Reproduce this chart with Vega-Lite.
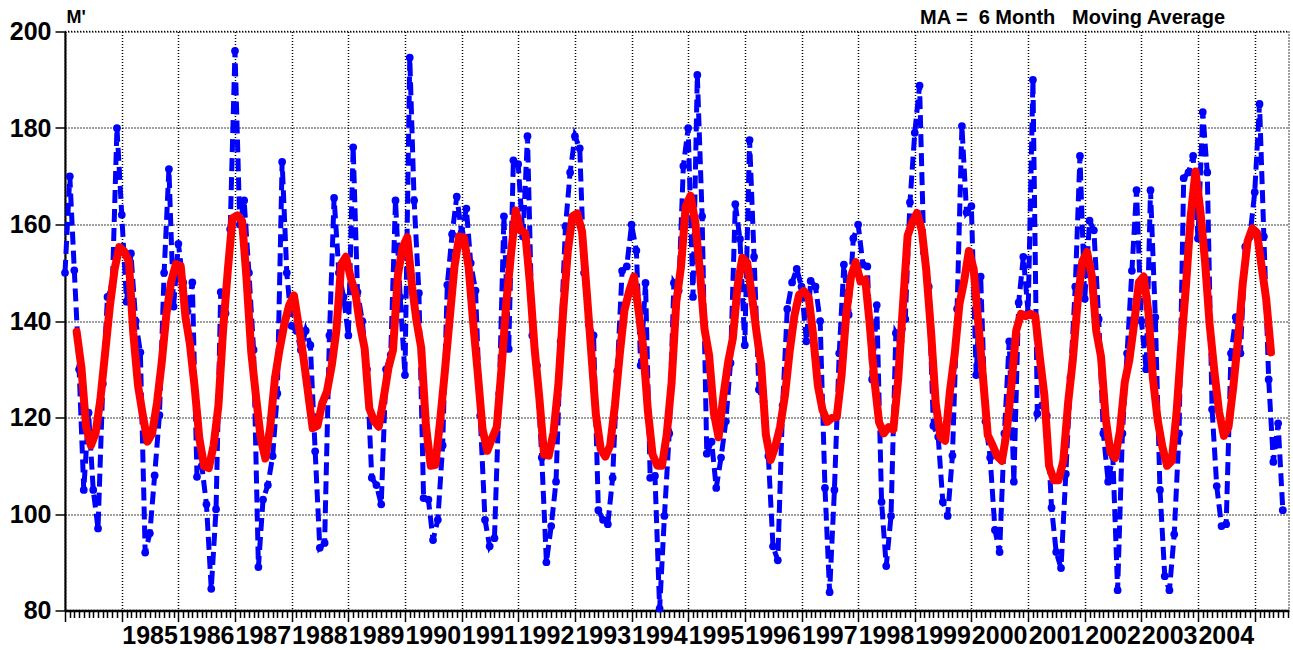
{
  "$schema": "https://vega.github.io/schema/vega-lite/v6.json",
  "width": 1224,
  "height": 579,
  "autosize": {"type": "none"},
  "padding": {"left": 65, "top": 31.5, "right": 4, "bottom": 39.5},
  "background": "white",
  "config": {
    "font": "Liberation Sans",
    "view": {"stroke": "black", "strokeDash": [1, 2], "strokeWidth": 1.5}
  },
  "title": {
    "text": "MA =\u00a0 6 Month\u00a0\u00a0 Moving Average",
    "anchor": "end",
    "frame": "group",
    "fontSize": 20,
    "fontWeight": "bold",
    "color": "black",
    "font": "Liberation Sans",
    "baseline": "bottom",
    "offset": 0,
    "dx": -64,
    "dy": 39
  },
  "datasets": {
    "monthly": [
      {"date":"1984-01-01","value":150},{"date":"1984-02-01","value":170},{"date":"1984-03-01","value":150.5},{"date":"1984-04-01","value":130},{"date":"1984-05-01","value":105},{"date":"1984-06-01","value":121},{"date":"1984-07-01","value":105},{"date":"1984-08-01","value":97},{"date":"1984-09-01","value":127},{"date":"1984-10-01","value":145},{"date":"1984-11-01","value":147},{"date":"1984-12-01","value":180},
      {"date":"1985-01-01","value":162},{"date":"1985-02-01","value":144},{"date":"1985-03-01","value":154},{"date":"1985-04-01","value":140},{"date":"1985-05-01","value":133.5},{"date":"1985-06-01","value":92},{"date":"1985-07-01","value":96},{"date":"1985-08-01","value":108},{"date":"1985-09-01","value":120.5},{"date":"1985-10-01","value":150},{"date":"1985-11-01","value":171.5},{"date":"1985-12-01","value":143},
      {"date":"1986-01-01","value":156},{"date":"1986-02-01","value":148},{"date":"1986-03-01","value":142},{"date":"1986-04-01","value":148},{"date":"1986-05-01","value":107.7},{"date":"1986-06-01","value":110},{"date":"1986-07-01","value":102},{"date":"1986-08-01","value":84.5},{"date":"1986-09-01","value":101},{"date":"1986-10-01","value":146},{"date":"1986-11-01","value":141.6},{"date":"1986-12-01","value":159},
      {"date":"1987-01-01","value":196},{"date":"1987-02-01","value":160},{"date":"1987-03-01","value":165},{"date":"1987-04-01","value":150},{"date":"1987-05-01","value":134},{"date":"1987-06-01","value":89},{"date":"1987-07-01","value":103},{"date":"1987-08-01","value":106},{"date":"1987-09-01","value":112},{"date":"1987-10-01","value":125},{"date":"1987-11-01","value":173},{"date":"1987-12-01","value":150},
      {"date":"1988-01-01","value":139},{"date":"1988-02-01","value":138},{"date":"1988-03-01","value":134},{"date":"1988-04-01","value":138},{"date":"1988-05-01","value":135},{"date":"1988-06-01","value":113},{"date":"1988-07-01","value":93},{"date":"1988-08-01","value":94},{"date":"1988-09-01","value":137},{"date":"1988-10-01","value":165.5},{"date":"1988-11-01","value":150},{"date":"1988-12-01","value":145},
      {"date":"1989-01-01","value":137},{"date":"1989-02-01","value":176},{"date":"1989-03-01","value":146},{"date":"1989-04-01","value":140},{"date":"1989-05-01","value":130},{"date":"1989-06-01","value":107.5},{"date":"1989-07-01","value":106},{"date":"1989-08-01","value":102},{"date":"1989-09-01","value":130},{"date":"1989-10-01","value":133},{"date":"1989-11-01","value":165},{"date":"1989-12-01","value":145},
      {"date":"1990-01-01","value":128.8},{"date":"1990-02-01","value":194.6},{"date":"1990-03-01","value":165},{"date":"1990-04-01","value":145.8},{"date":"1990-05-01","value":103.3},{"date":"1990-06-01","value":103},{"date":"1990-07-01","value":94.6},{"date":"1990-08-01","value":98.8},{"date":"1990-09-01","value":114.2},{"date":"1990-10-01","value":147.5},{"date":"1990-11-01","value":158},{"date":"1990-12-01","value":165.8},
      {"date":"1991-01-01","value":158.3},{"date":"1991-02-01","value":163.3},{"date":"1991-03-01","value":152},{"date":"1991-04-01","value":146.3},{"date":"1991-05-01","value":120.4},{"date":"1991-06-01","value":98.8},{"date":"1991-07-01","value":93.3},{"date":"1991-08-01","value":95},{"date":"1991-09-01","value":125},{"date":"1991-10-01","value":161.7},{"date":"1991-11-01","value":134.2},{"date":"1991-12-01","value":173.3},
      {"date":"1992-01-01","value":172.5},{"date":"1992-02-01","value":157.5},{"date":"1992-03-01","value":178.3},{"date":"1992-04-01","value":137},{"date":"1992-05-01","value":130.8},{"date":"1992-06-01","value":111.7},{"date":"1992-07-01","value":90},{"date":"1992-08-01","value":97.5},{"date":"1992-09-01","value":106.7},{"date":"1992-10-01","value":135.8},{"date":"1992-11-01","value":159.6},{"date":"1992-12-01","value":170.8},
      {"date":"1993-01-01","value":178.3},{"date":"1993-02-01","value":175.8},{"date":"1993-03-01","value":150},{"date":"1993-04-01","value":139.2},{"date":"1993-05-01","value":137},{"date":"1993-06-01","value":100.8},{"date":"1993-07-01","value":98.8},{"date":"1993-08-01","value":97.9},{"date":"1993-09-01","value":107.5},{"date":"1993-10-01","value":129.6},{"date":"1993-11-01","value":150.4},{"date":"1993-12-01","value":151.3},
      {"date":"1994-01-01","value":160},{"date":"1994-02-01","value":154.6},{"date":"1994-03-01","value":130.8},{"date":"1994-04-01","value":147.9},{"date":"1994-05-01","value":107.5},{"date":"1994-06-01","value":107.9},{"date":"1994-07-01","value":80.4},{"date":"1994-08-01","value":99.6},{"date":"1994-09-01","value":116.7},{"date":"1994-10-01","value":147.9},{"date":"1994-11-01","value":146.3},{"date":"1994-12-01","value":172.1},
      {"date":"1995-01-01","value":180},{"date":"1995-02-01","value":145},{"date":"1995-03-01","value":191},{"date":"1995-04-01","value":161.7},{"date":"1995-05-01","value":112.5},{"date":"1995-06-01","value":115},{"date":"1995-07-01","value":105.4},{"date":"1995-08-01","value":111.7},{"date":"1995-09-01","value":119.2},{"date":"1995-10-01","value":131.3},{"date":"1995-11-01","value":164.2},{"date":"1995-12-01","value":157},
      {"date":"1996-01-01","value":135},{"date":"1996-02-01","value":177.5},{"date":"1996-03-01","value":153.3},{"date":"1996-04-01","value":125.8},{"date":"1996-05-01","value":123.3},{"date":"1996-06-01","value":112},{"date":"1996-07-01","value":93.3},{"date":"1996-08-01","value":90.4},{"date":"1996-09-01","value":122.5},{"date":"1996-10-01","value":142.5},{"date":"1996-11-01","value":148},{"date":"1996-12-01","value":150.8},
      {"date":"1997-01-01","value":147.1},{"date":"1997-02-01","value":135.8},{"date":"1997-03-01","value":148.3},{"date":"1997-04-01","value":147.1},{"date":"1997-05-01","value":140},{"date":"1997-06-01","value":105.4},{"date":"1997-07-01","value":83.8},{"date":"1997-08-01","value":105},{"date":"1997-09-01","value":133.3},{"date":"1997-10-01","value":151.7},{"date":"1997-11-01","value":141.3},{"date":"1997-12-01","value":157.1},
      {"date":"1998-01-01","value":160},{"date":"1998-02-01","value":151.7},{"date":"1998-03-01","value":151.3},{"date":"1998-04-01","value":127.9},{"date":"1998-05-01","value":143.3},{"date":"1998-06-01","value":102.5},{"date":"1998-07-01","value":89.2},{"date":"1998-08-01","value":99.6},{"date":"1998-09-01","value":137.5},{"date":"1998-10-01","value":135.8},{"date":"1998-11-01","value":140.4},{"date":"1998-12-01","value":164.6},
      {"date":"1999-01-01","value":179},{"date":"1999-02-01","value":188.8},{"date":"1999-03-01","value":154.2},{"date":"1999-04-01","value":147.1},{"date":"1999-05-01","value":118.3},{"date":"1999-06-01","value":116},{"date":"1999-07-01","value":102.5},{"date":"1999-08-01","value":99.6},{"date":"1999-09-01","value":112.1},{"date":"1999-10-01","value":142.5},{"date":"1999-11-01","value":180.4},{"date":"1999-12-01","value":162.5},
      {"date":"2000-01-01","value":163.8},{"date":"2000-02-01","value":128.8},{"date":"2000-03-01","value":149.2},{"date":"2000-04-01","value":119.2},{"date":"2000-05-01","value":111.7},{"date":"2000-06-01","value":96.7},{"date":"2000-07-01","value":92.1},{"date":"2000-08-01","value":116.7},{"date":"2000-09-01","value":135.8},{"date":"2000-10-01","value":106.7},{"date":"2000-11-01","value":143.8},{"date":"2000-12-01","value":153.3},
      {"date":"2001-01-01","value":141.7},{"date":"2001-02-01","value":190},{"date":"2001-03-01","value":120.8},{"date":"2001-04-01","value":122.5},{"date":"2001-05-01","value":120.4},{"date":"2001-06-01","value":101.3},{"date":"2001-07-01","value":92.1},{"date":"2001-08-01","value":88.8},{"date":"2001-09-01","value":108.3},{"date":"2001-10-01","value":128.3},{"date":"2001-11-01","value":147.1},{"date":"2001-12-01","value":174.2},
      {"date":"2002-01-01","value":144.6},{"date":"2002-02-01","value":160.8},{"date":"2002-03-01","value":158.8},{"date":"2002-04-01","value":140.4},{"date":"2002-05-01","value":116.7},{"date":"2002-06-01","value":106.7},{"date":"2002-07-01","value":112},{"date":"2002-08-01","value":84.2},{"date":"2002-09-01","value":116.7},{"date":"2002-10-01","value":133.3},{"date":"2002-11-01","value":150.4},{"date":"2002-12-01","value":167.1},
      {"date":"2003-01-01","value":140},{"date":"2003-02-01","value":130},{"date":"2003-03-01","value":167.1},{"date":"2003-04-01","value":140.8},{"date":"2003-05-01","value":105},{"date":"2003-06-01","value":87.1},{"date":"2003-07-01","value":84.2},{"date":"2003-08-01","value":95.8},{"date":"2003-09-01","value":116.7},{"date":"2003-10-01","value":169.6},{"date":"2003-11-01","value":170.8},{"date":"2003-12-01","value":174.2},
      {"date":"2004-01-01","value":157.1},{"date":"2004-02-01","value":183.3},{"date":"2004-03-01","value":170.8},{"date":"2004-04-01","value":121.7},{"date":"2004-05-01","value":105.8},{"date":"2004-06-01","value":97.5},{"date":"2004-07-01","value":97.9},{"date":"2004-08-01","value":133.3},{"date":"2004-09-01","value":140.8},{"date":"2004-10-01","value":133.3},{"date":"2004-11-01","value":155.4},{"date":"2004-12-01","value":157.5},
      {"date":"2005-01-01","value":166.7},{"date":"2005-02-01","value":185},{"date":"2005-03-01","value":157.5},{"date":"2005-04-01","value":127.9},{"date":"2005-05-01","value":110.8},{"date":"2005-06-01","value":118.8},{"date":"2005-07-01","value":100.8}
    ],
    "movingAverage": [
      {"date":"1984-03-16","value":137.8},{"date":"1984-04-16","value":130.3},{"date":"1984-05-16","value":118.1},{"date":"1984-06-16","value":114.2},{"date":"1984-07-16","value":116.7},{"date":"1984-08-16","value":123.7},{"date":"1984-09-16","value":133.5},{"date":"1984-10-16","value":143},{"date":"1984-11-16","value":150.8},{"date":"1984-12-16","value":155.3},
      {"date":"1985-01-16","value":154.5},{"date":"1985-02-16","value":152.3},{"date":"1985-03-16","value":137.6},{"date":"1985-04-16","value":126.6},{"date":"1985-05-16","value":120.6},{"date":"1985-06-16","value":115},{"date":"1985-07-16","value":116.7},{"date":"1985-08-16","value":123},{"date":"1985-09-16","value":131.5},{"date":"1985-10-16","value":141.5},{"date":"1985-11-16","value":148.2},{"date":"1985-12-16","value":151.8},
      {"date":"1986-01-16","value":151.4},{"date":"1986-02-16","value":140.8},{"date":"1986-03-16","value":135.3},{"date":"1986-04-16","value":126.3},{"date":"1986-05-16","value":115.7},{"date":"1986-06-16","value":109.9},{"date":"1986-07-16","value":109.5},{"date":"1986-08-16","value":114.2},{"date":"1986-09-16","value":122.4},{"date":"1986-10-16","value":138},{"date":"1986-11-16","value":150.6},{"date":"1986-12-16","value":161.3},
      {"date":"1987-01-16","value":161.9},{"date":"1987-02-16","value":160.7},{"date":"1987-03-16","value":149},{"date":"1987-04-16","value":133.5},{"date":"1987-05-16","value":124.5},{"date":"1987-06-16","value":115.7},{"date":"1987-07-16","value":111.5},{"date":"1987-08-16","value":118},{"date":"1987-09-16","value":128.2},{"date":"1987-10-16","value":134.2},{"date":"1987-11-16","value":139.5},{"date":"1987-12-16","value":143.2},
      {"date":"1988-01-16","value":145.3},{"date":"1988-02-16","value":139},{"date":"1988-03-16","value":132.8},{"date":"1988-04-16","value":125.2},{"date":"1988-05-16","value":117.8},{"date":"1988-06-16","value":118.3},{"date":"1988-07-16","value":122.9},{"date":"1988-08-16","value":125.4},{"date":"1988-09-16","value":130.8},{"date":"1988-10-16","value":138.1},{"date":"1988-11-16","value":151.8},{"date":"1988-12-16","value":153.3},
      {"date":"1989-01-16","value":149},{"date":"1989-02-16","value":145.7},{"date":"1989-03-16","value":139.4},{"date":"1989-04-16","value":134.3},{"date":"1989-05-16","value":121.9},{"date":"1989-06-16","value":119.3},{"date":"1989-07-16","value":118.1},{"date":"1989-08-16","value":123.9},{"date":"1989-09-16","value":130.2},{"date":"1989-10-16","value":134},{"date":"1989-11-16","value":149.4},{"date":"1989-12-16","value":155.2},
      {"date":"1990-01-16","value":157.4},{"date":"1990-02-16","value":147.1},{"date":"1990-03-16","value":140.1},{"date":"1990-04-16","value":134.4},{"date":"1990-05-16","value":118.4},{"date":"1990-06-16","value":110},{"date":"1990-07-16","value":110.2},{"date":"1990-08-16","value":119.4},{"date":"1990-09-16","value":129.8},{"date":"1990-10-16","value":140.4},{"date":"1990-11-16","value":151.2},{"date":"1990-12-16","value":157.5},
      {"date":"1991-01-16","value":157.3},{"date":"1991-02-16","value":151},{"date":"1991-03-16","value":139.9},{"date":"1991-04-16","value":129},{"date":"1991-05-16","value":117.6},{"date":"1991-06-16","value":113.1},{"date":"1991-07-16","value":115.7},{"date":"1991-08-16","value":118},{"date":"1991-09-16","value":130.4},{"date":"1991-10-16","value":143.6},{"date":"1991-11-16","value":154},{"date":"1991-12-16","value":162.9},
      {"date":"1992-01-16","value":158.8},{"date":"1992-02-16","value":158.2},{"date":"1992-03-16","value":148},{"date":"1992-04-16","value":134.2},{"date":"1992-05-16","value":124.2},{"date":"1992-06-16","value":112.3},{"date":"1992-07-16","value":112.1},{"date":"1992-08-16","value":116.9},{"date":"1992-09-16","value":126.7},{"date":"1992-10-16","value":141.5},{"date":"1992-11-16","value":154.5},{"date":"1992-12-16","value":161.7},
      {"date":"1993-01-16","value":162.3},{"date":"1993-02-16","value":158.5},{"date":"1993-03-16","value":146.9},{"date":"1993-04-16","value":133.6},{"date":"1993-05-16","value":120.6},{"date":"1993-06-16","value":113.5},{"date":"1993-07-16","value":111.9},{"date":"1993-08-16","value":114.2},{"date":"1993-09-16","value":122.6},{"date":"1993-10-16","value":132.8},{"date":"1993-11-16","value":142.2},{"date":"1993-12-16","value":146.1},
      {"date":"1994-01-16","value":149.2},{"date":"1994-02-16","value":142},{"date":"1994-03-16","value":134.8},{"date":"1994-04-16","value":121.5},{"date":"1994-05-16","value":112.4},{"date":"1994-06-16","value":110},{"date":"1994-07-16","value":110},{"date":"1994-08-16","value":116.5},{"date":"1994-09-16","value":127.2},{"date":"1994-10-16","value":143.8},{"date":"1994-11-16","value":151.3},{"date":"1994-12-16","value":163.7},
      {"date":"1995-01-16","value":166},{"date":"1995-02-16","value":160.4},{"date":"1995-03-16","value":150.9},{"date":"1995-04-16","value":138.4},{"date":"1995-05-16","value":132.9},{"date":"1995-06-16","value":120.9},{"date":"1995-07-16","value":115.9},{"date":"1995-08-16","value":124.5},{"date":"1995-09-16","value":131.5},{"date":"1995-10-16","value":136.4},{"date":"1995-11-16","value":147.4},{"date":"1995-12-16","value":153.1},
      {"date":"1996-01-16","value":152.1},{"date":"1996-02-16","value":145.3},{"date":"1996-03-16","value":137.8},{"date":"1996-04-16","value":130.9},{"date":"1996-05-16","value":116.4},{"date":"1996-06-16","value":111.2},{"date":"1996-07-16","value":114},{"date":"1996-08-16","value":118.1},{"date":"1996-09-16","value":124.6},{"date":"1996-10-16","value":133.6},{"date":"1996-11-16","value":141.1},{"date":"1996-12-16","value":145.4},
      {"date":"1997-01-16","value":146.2},{"date":"1997-02-16","value":144.9},{"date":"1997-03-16","value":137.3},{"date":"1997-04-16","value":126.7},{"date":"1997-05-16","value":121.6},{"date":"1997-06-16","value":119.1},{"date":"1997-07-16","value":119.9},{"date":"1997-08-16","value":120.1},{"date":"1997-09-16","value":128.7},{"date":"1997-10-16","value":141.4},{"date":"1997-11-16","value":149.2},{"date":"1997-12-16","value":152.2},
      {"date":"1998-01-16","value":148.2},{"date":"1998-02-16","value":148.6},{"date":"1998-03-16","value":139.5},{"date":"1998-04-16","value":127.7},{"date":"1998-05-16","value":119},{"date":"1998-06-16","value":116.7},{"date":"1998-07-16","value":118},{"date":"1998-08-16","value":117.5},{"date":"1998-09-16","value":127.9},{"date":"1998-10-16","value":142.8},{"date":"1998-11-16","value":157.7},{"date":"1998-12-16","value":160.5},
      {"date":"1999-01-16","value":162.4},{"date":"1999-02-16","value":158.7},{"date":"1999-03-16","value":150.6},{"date":"1999-04-16","value":137.8},{"date":"1999-05-16","value":123},{"date":"1999-06-16","value":115.9},{"date":"1999-07-16","value":115.2},{"date":"1999-08-16","value":125.5},{"date":"1999-09-16","value":133.3},{"date":"1999-10-16","value":143.5},{"date":"1999-11-16","value":148.4},{"date":"1999-12-16","value":154.5},
      {"date":"2000-01-16","value":150.7},{"date":"2000-02-16","value":139.2},{"date":"2000-03-16","value":128.2},{"date":"2000-04-16","value":116.3},{"date":"2000-05-16","value":114.3},{"date":"2000-06-16","value":112},{"date":"2000-07-16","value":111},{"date":"2000-08-16","value":117},{"date":"2000-09-16","value":127},{"date":"2000-10-16","value":138},{"date":"2000-11-16","value":141.5},{"date":"2000-12-16","value":141},
      {"date":"2001-01-16","value":141.5},{"date":"2001-02-16","value":141},{"date":"2001-03-16","value":132.8},{"date":"2001-04-16","value":124.5},{"date":"2001-05-16","value":110},{"date":"2001-06-16","value":107},{"date":"2001-07-16","value":107},{"date":"2001-08-16","value":111},{"date":"2001-09-16","value":123.1},{"date":"2001-10-16","value":131.9},{"date":"2001-11-16","value":143.9},{"date":"2001-12-16","value":152.3},
      {"date":"2002-01-16","value":154.3},{"date":"2002-02-16","value":149.3},{"date":"2002-03-16","value":138},{"date":"2002-04-16","value":132.6},{"date":"2002-05-16","value":119.8},{"date":"2002-06-16","value":112.8},{"date":"2002-07-16","value":111.6},{"date":"2002-08-16","value":117.2},{"date":"2002-09-16","value":127.3},{"date":"2002-10-16","value":132},{"date":"2002-11-16","value":139.6},{"date":"2002-12-16","value":148},
      {"date":"2003-01-16","value":149.2},{"date":"2003-02-16","value":141.7},{"date":"2003-03-16","value":128.3},{"date":"2003-04-16","value":119.5},{"date":"2003-05-16","value":114},{"date":"2003-06-16","value":110},{"date":"2003-07-16","value":111},{"date":"2003-08-16","value":121},{"date":"2003-09-16","value":135.2},{"date":"2003-10-16","value":147.4},{"date":"2003-11-16","value":162},{"date":"2003-12-16","value":171},
      {"date":"2004-01-16","value":163},{"date":"2004-02-16","value":152.2},{"date":"2004-03-16","value":139.4},{"date":"2004-04-16","value":129.5},{"date":"2004-05-16","value":121.2},{"date":"2004-06-16","value":116.2},{"date":"2004-07-16","value":118.1},{"date":"2004-08-16","value":126.4},{"date":"2004-09-16","value":136.4},{"date":"2004-10-16","value":147.8},{"date":"2004-11-16","value":156.5},{"date":"2004-12-16","value":159.2},
      {"date":"2005-01-16","value":158.3},{"date":"2005-02-16","value":150.9},{"date":"2005-03-16","value":144.5},{"date":"2005-04-16","value":133.5}
    ]
  },
  "encoding": {
    "x": {
      "field": "date",
      "type": "temporal",
      "scale": {
        "type": "utc",
        "nice": false,
        "domain": [
          {"year": 1984, "month": 1, "date": 1, "utc": true},
          {"year": 2005, "month": 8, "date": 10, "utc": true}
        ]
      },
      "axis": {
        "title": null,
        "tickCount": {"interval": "month", "step": 1},
        "grid": true,
        "gridColor": "black",
        "gridDash": [1, 2],
        "gridWidth": 1.5,
        "gridOpacity": {"condition": {"test": "utcmonth(datum.value) === 0", "value": 1}, "value": 0},
        "domainColor": "black",
        "domainWidth": 2.5,
        "tickColor": "black",
        "tickWidth": 1.5,
        "tickSize": {"condition": {"test": "utcmonth(datum.value) === 0", "value": 11}, "value": 7},
        "labelExpr": "utcmonth(datum.value) === 0 && utcyear(datum.value) >= 1985 && utcyear(datum.value) <= 2004 ? utcFormat(datum.value, '%Y') : ''",
        "labelAlign": "left",
        "labelBaseline": "top",
        "labelOffset": 0,
        "labelPadding": 2,
        "labelFlush": false,
        "labelOverlap": false,
        "labelBound": false,
        "labelFont": "Liberation Sans",
        "labelFontSize": 25,
        "labelFontWeight": "bold",
        "labelColor": "black"
      }
    },
    "y": {
      "field": "value",
      "type": "quantitative",
      "scale": {"domain": [80, 200], "nice": false, "zero": false},
      "axis": {
        "values": [80, 100, 120, 140, 160, 180, 200],
        "grid": true,
        "gridColor": "black",
        "gridDash": [1, 2],
        "gridWidth": 1.5,
        "domainColor": "black",
        "domainWidth": 2,
        "tickColor": "black",
        "tickWidth": 1.5,
        "tickSize": 10,
        "labelPadding": 4,
        "labelFont": "Liberation Sans",
        "labelFontSize": 25,
        "labelFontWeight": "bold",
        "labelColor": "black",
        "title": "M'",
        "titleAngle": 0,
        "titleAlign": "left",
        "titleBaseline": "middle",
        "titleX": 1,
        "titleY": -14,
        "titleFont": "Liberation Sans",
        "titleFontSize": 18,
        "titleFontWeight": "bold",
        "titleColor": "black"
      }
    }
  },
  "layer": [
    {
      "data": {"name": "monthly"},
      "mark": {
        "type": "line",
        "color": "#0000ff",
        "strokeWidth": 5,
        "strokeDash": [13, 6],
        "point": {"filled": true, "color": "#0000ff", "size": 60, "opacity": 1}
      }
    },
    {
      "data": {"name": "movingAverage"},
      "mark": {
        "type": "line",
        "color": "#ff0000",
        "strokeWidth": 8,
        "strokeJoin": "round",
        "strokeCap": "round"
      }
    }
  ]
}
